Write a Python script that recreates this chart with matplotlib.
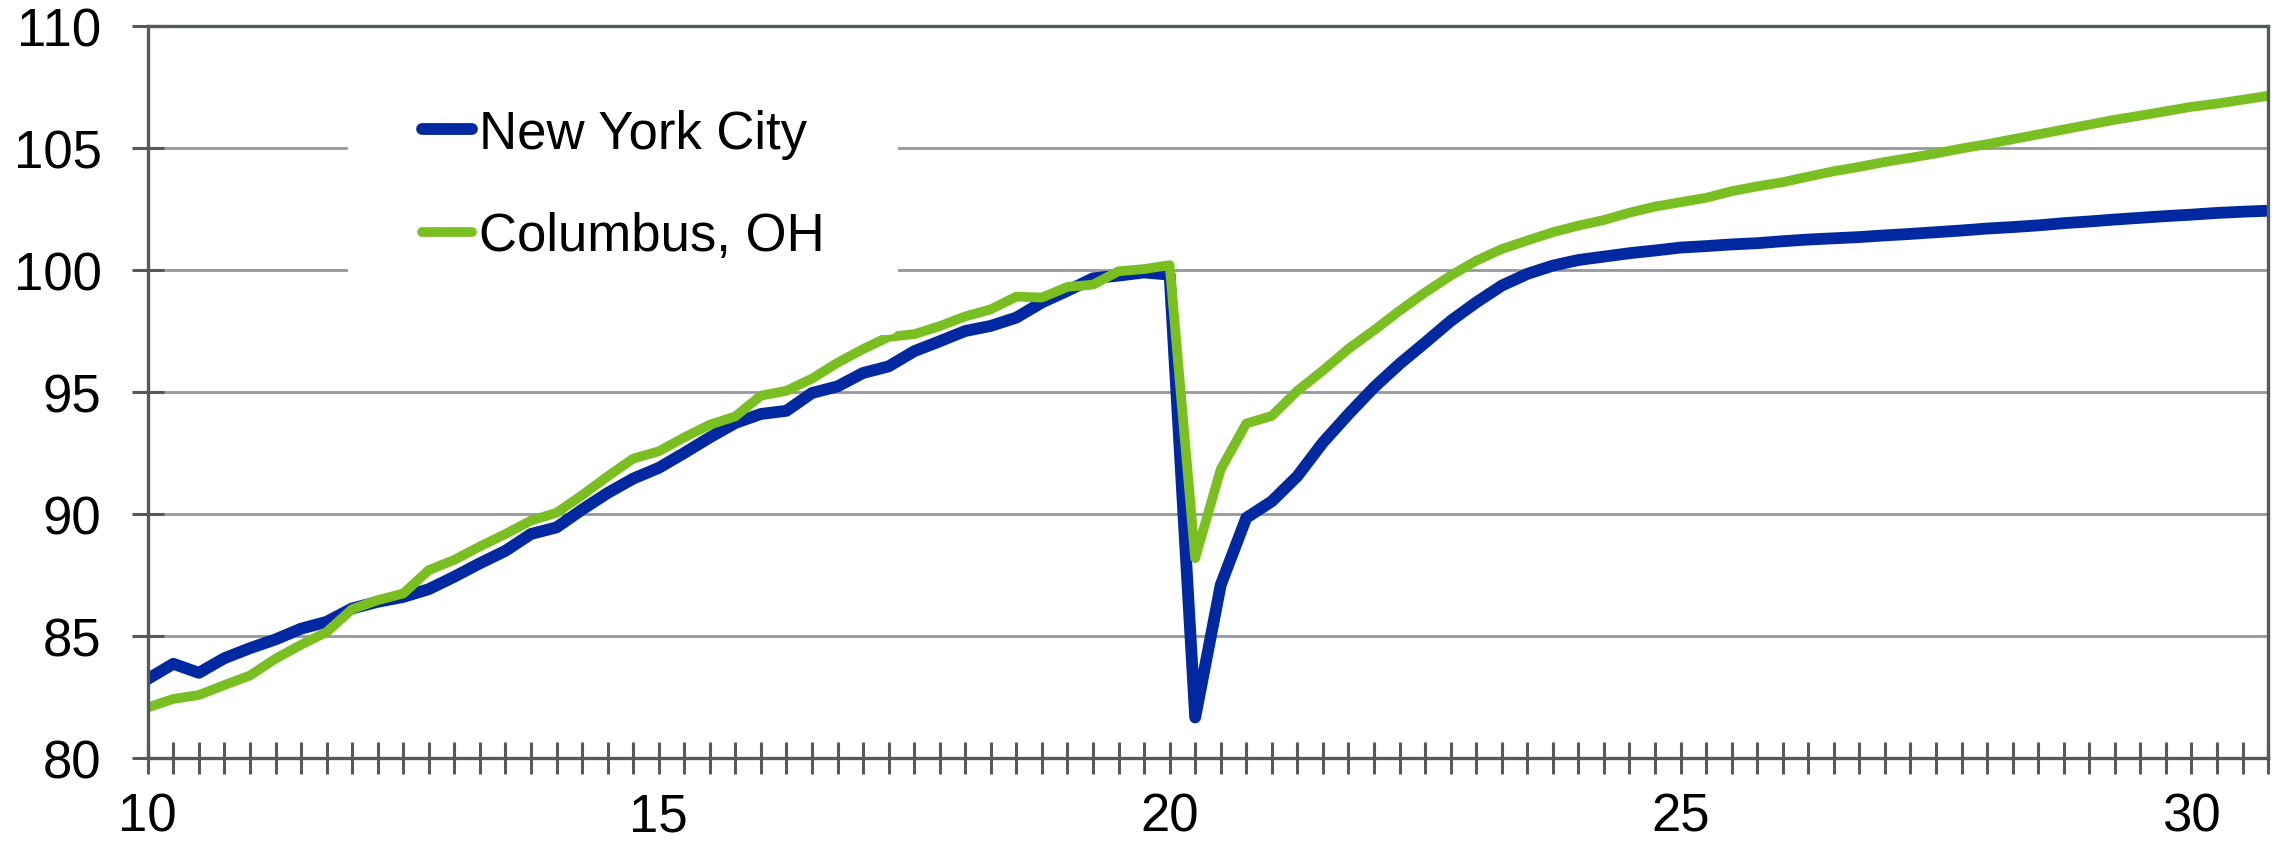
import numpy as np
import matplotlib
matplotlib.use("Agg")
import matplotlib.pyplot as plt
from matplotlib.ticker import MultipleLocator, FuncFormatter

# quarterly series, 2010Q1 .. 2030Q4 (axis shows two-digit years)
nyc = [83.24, 83.86, 83.49, 84.09, 84.50, 84.86, 85.30, 85.58,
       86.13, 86.40, 86.60, 86.92, 87.43, 87.98, 88.49, 89.18,
       89.45, 90.18, 90.86, 91.45, 91.89, 92.50, 93.14, 93.73,
       94.10, 94.23, 94.96, 95.23, 95.78, 96.05, 96.67, 97.08,
       97.50, 97.71, 98.05, 98.67, 99.15, 99.66, 99.77, 99.90,
       99.81, 81.66, 87.09, 89.84, 90.52, 91.55, 92.93, 94.09,
       95.19, 96.15, 97.02, 97.91, 98.67, 99.36, 99.84, 100.18,
       100.41, 100.55, 100.69, 100.80, 100.92, 100.98, 101.05, 101.10,
       101.18, 101.25, 101.30, 101.35, 101.42, 101.48, 101.55, 101.62,
       101.70, 101.76, 101.83, 101.92, 101.99, 102.07, 102.14, 102.21,
       102.27, 102.34, 102.39, 102.43]

columbus = [82.07, 82.42, 82.58, 82.99, 83.38, 84.07, 84.64, 85.16,
            86.10, 86.47, 86.74, 87.70, 88.12, 88.67, 89.18, 89.73,
            90.05, 90.77, 91.54, 92.27, 92.57, 93.14, 93.66, 94.00,
            94.85, 95.05, 95.55, 96.20, 96.76, 97.26, 97.37, 97.70,
            98.10, 98.39, 98.91, 98.87, 99.31, 99.40, 99.95, 100.04,
            100.20, 88.19, 91.83, 93.71, 94.02, 95.05, 95.88, 96.77,
            97.53, 98.33, 99.08, 99.77, 100.38, 100.86, 101.21, 101.55,
            101.82, 102.05, 102.35, 102.60, 102.78, 102.96, 103.23, 103.43,
            103.60, 103.83, 104.05, 104.23, 104.43, 104.60, 104.78, 104.98,
            105.16, 105.36, 105.56, 105.76, 105.96, 106.16, 106.33, 106.51,
            106.69, 106.82, 106.98, 107.14]

start_year = 10
quarters = start_year + np.arange(len(nyc)) / 4.0

blue = "#0029a1"
green = "#7abf22"
dark = "#55595e"
grid_gray = "#95989c"
fsize = 38

plt.rcParams["font.family"] = ["Liberation Sans", "DejaVu Sans"]

fig = plt.figure(figsize=(22.77, 8.45), dpi=100)
ax = fig.add_axes([0.0649, 0.1018, 0.9312, 0.8662])

ax.plot(quarters, nyc, color=blue, lw=8.5, solid_joinstyle="round",
        solid_capstyle="round", label="New York City", zorder=3)
ax.plot(quarters, columbus, color=green, lw=7, solid_joinstyle="round",
        solid_capstyle="round", label="Columbus, OH", zorder=4)

ax.set_xlim(10, 30.75)
ax.set_ylim(80, 110)

ax.xaxis.set_major_locator(MultipleLocator(5))
ax.xaxis.set_minor_locator(MultipleLocator(0.25))
ax.xaxis.set_major_formatter(FuncFormatter(lambda v, p: f"{int(round(v))}"))
ax.yaxis.set_major_locator(MultipleLocator(5))

for which in ("major", "minor"):
    ax.tick_params(axis="x", which=which, direction="inout", length=22.5,
                   width=2.2, color=dark, pad=13, labelsize=fsize)
ax.tick_params(axis="y", direction="inout", length=22.5, width=2.2,
               color=dark, pad=22, labelsize=fsize)

ax.grid(axis="y", color=grid_gray, lw=2, zorder=1)
ax.set_axisbelow(True)
for s in ax.spines.values():
    s.set_color(dark)
    s.set_linewidth(2.4)
    s.set_zorder(6)

leg = ax.legend(loc="upper left", bbox_to_anchor=(0.0945, 0.988),
                borderaxespad=0, fontsize=fsize, frameon=True,
                handlelength=0.95, handletextpad=0.12, labelspacing=1.0,
                borderpad=1.4)
leg.get_frame().set_facecolor("white")
leg.get_frame().set_edgecolor("none")
leg.get_frame().set_alpha(1)
leg.set_zorder(5)

fig.savefig("out.png", dpi=100)
